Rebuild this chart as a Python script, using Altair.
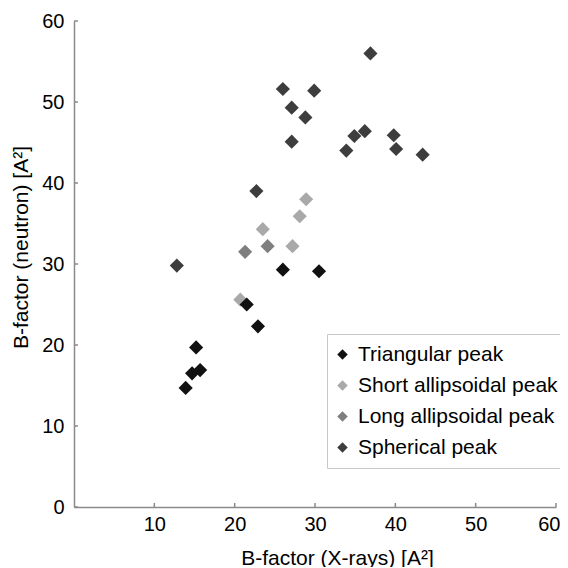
import altair as alt
import pandas as pd

categories = ["Triangular peak", "Short allipsoidal peak", "Long allipsoidal peak", "Spherical peak"]
colors = ["#111111", "#a9a9a9", "#7f7f7f", "#3d3d3d"]

tri_x = [13.9, 14.7, 15.7, 15.2, 21.5, 22.9, 26.0, 30.5]
tri_y = [14.7, 16.5, 16.9, 19.7, 25.0, 22.3, 29.3, 29.1]
short_x = [20.7, 23.5, 27.2, 28.1, 28.9]
short_y = [25.6, 34.3, 32.2, 35.9, 38.0]
long_x = [21.3, 24.1]
long_y = [31.5, 32.2]
sph_x = [12.8, 22.7, 26.0, 27.1, 27.1, 28.8, 29.9, 36.9, 33.9, 34.9, 36.2, 39.8, 40.1, 43.4]
sph_y = [29.8, 39.0, 51.6, 49.3, 45.1, 48.1, 51.4, 56.0, 44.0, 45.8, 46.4, 45.9, 44.2, 43.5]

x_tick_values = [10, 20, 30, 40, 50, 60]
y_tick_values = [0, 10, 20, 30, 40, 50, 60]

FONT = "Liberation Sans"
AXIS_GRAY = "#8a8a8a"

rows = []
for cat, xs, ys in [
    (categories[1], short_x, short_y),
    (categories[0], tri_x, tri_y),
    (categories[2], long_x, long_y),
    (categories[3], sph_x, sph_y),
]:
    for xv, yv in zip(xs, ys):
        rows.append({"xray": xv, "neutron": yv, "type": cat})
df = pd.DataFrame(rows)

xscale = alt.Scale(domain=[0, 60], nice=False, zero=False)
yscale = alt.Scale(domain=[0, 60], nice=False, zero=False)

x_axis = alt.Axis(
    values=x_tick_values, title="B-factor (X-rays) [A²]", ticks=False, tickSize=0,
    grid=False, domainColor=AXIS_GRAY, domainWidth=1.5,
    labelFlush=True, labelFlushOffset=4,
    labelFont=FONT, labelFontSize=20, labelColor="black", labelPadding=7,
    titleFont=FONT, titleFontSize=21, titleFontWeight="normal", titleColor="black",
    titleX=263, titleY=57, titleBaseline="alphabetic", titleAlign="center",
)
y_axis = alt.Axis(
    values=y_tick_values, title="B-factor (neutron) [A²]", ticks=False, tickSize=0,
    grid=False, domainColor=AXIS_GRAY, domainWidth=1.5, labelFlush=False,
    labelFont=FONT, labelFontSize=20, labelColor="black", labelPadding=10,
    titleFont=FONT, titleFontSize=21, titleFontWeight="normal", titleColor="black",
    titleAngle=270, titleX=-47, titleY=226, titleBaseline="alphabetic", titleAlign="center",
)

points = alt.Chart(df).mark_point(shape="diamond", filled=True, size=200, opacity=1).encode(
    x=alt.X("xray:Q", scale=xscale, axis=x_axis),
    y=alt.Y("neutron:Q", scale=yscale, axis=y_axis),
    color=alt.Color(
        "type:N",
        scale=alt.Scale(domain=categories, range=colors),
        title=None,
        legend=alt.Legend(
            orient="none", legendX=253, legendY=313,
            symbolType="diamond", symbolSize=110, symbolStrokeWidth=0, symbolOpacity=1,
            symbolOffset=-5,
            labelFont=FONT, labelFontSize=21, labelColor="black", labelOffset=5,
            labelLimit=400,
            padding=10, rowPadding=9, strokeColor="#c8c8c8", fillColor="white",
        ),
    ),
)

xt = pd.DataFrame({"v": x_tick_values, "lo": [0] * len(x_tick_values), "hi": [0.5] * len(x_tick_values)})
yt = pd.DataFrame({"v": y_tick_values, "lo": [0] * len(y_tick_values), "hi": [0.5] * len(y_tick_values)})

xticks = alt.Chart(xt).mark_rule(color=AXIS_GRAY, strokeWidth=1.5).encode(
    x=alt.X("v:Q", scale=xscale, axis=x_axis),
    y=alt.Y("lo:Q", scale=yscale, axis=y_axis),
    y2="hi:Q",
)
yticks = alt.Chart(yt).mark_rule(color=AXIS_GRAY, strokeWidth=1.5).encode(
    y=alt.Y("v:Q", scale=yscale, axis=y_axis),
    x=alt.X("lo:Q", scale=xscale, axis=x_axis),
    x2="hi:Q",
)

chart = alt.layer(points, xticks, yticks).properties(
    width=482, height=486,
    autosize=alt.AutoSizeParams(type="none"),
    padding={"left": 66, "top": 13, "right": 4, "bottom": 60},
).configure_view(strokeWidth=0)

chart.save("out.html", embed_options={"renderer": "svg", "actions": False})
